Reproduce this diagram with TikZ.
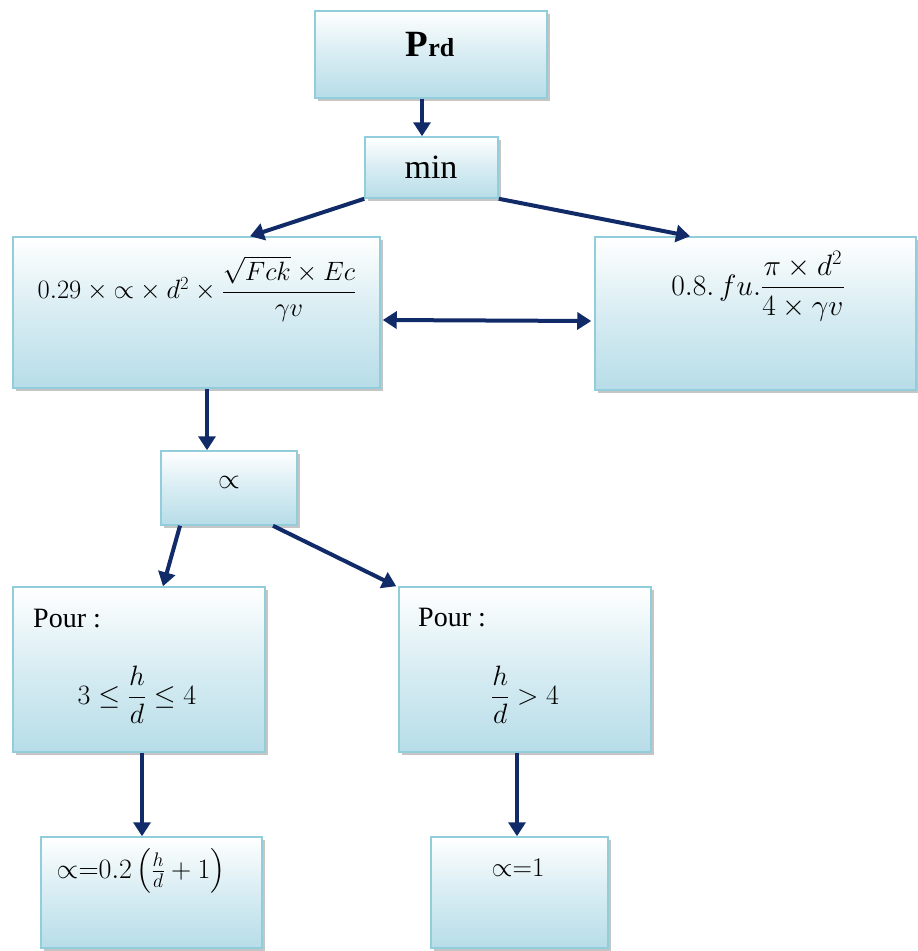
\RequirePackage{fix-cm}
\documentclass[tikz,border=0pt]{standalone}
\usepackage{amsmath,fontspec}
\setmainfont{Liberation Serif}
\usetikzlibrary{arrows.meta,shadows}
\definecolor{boxedge}{RGB}{146,205,220}
\definecolor{boxfill}{RGB}{183,221,232}
\definecolor{navy}{RGB}{17,42,104}

\begin{document}
\begin{tikzpicture}[x=1pt,y=-1pt,
  >={Triangle[length=14pt,width=17pt]},
  box/.style={draw=boxedge,line width=1.5pt,top color=white,bottom color=boxfill,
    middle color=boxfill!55,inner sep=0pt,
    drop shadow={shadow xshift=3pt,shadow yshift=-3pt,fill=black!45}},
  link/.style={draw=navy,fill=navy,line width=4pt,->},
  twoway/.style={draw=navy,fill=navy,line width=4pt,<->}]
\path[use as bounding box] (0,0) rectangle (918,951);
% boxes
\node[box,minimum width=232pt,minimum height=87pt] (prd) at (431,54.5) {};
\node[box,minimum width=133pt,minimum height=61pt] (minbox) at (431.5,167.5) {};
\node[box,minimum width=367pt,minimum height=151pt] (beton) at (196.5,312.5) {};
\node[box,minimum width=321pt,minimum height=153pt] (acier) at (755.5,313.5) {};
\node[box,minimum width=136pt,minimum height=74pt] (alpha) at (229,488) {};
\node[box,minimum width=252pt,minimum height=165pt] (pourA) at (139,669.5) {};
\node[box,minimum width=252pt,minimum height=165pt] (pourB) at (525,669.5) {};
\node[box,minimum width=221pt,minimum height=111pt] (alphaA) at (151.5,892.5) {};
\node[box,minimum width=177pt,minimum height=111pt] (alphaB) at (519.5,892.5) {};
% texts
\node[inner sep=0pt,font=\fontsize{37}{44}\selectfont\bfseries] (prdtxt) at (430,45) {P\fontsize{26}{30}\selectfont rd};
\node[inner sep=0pt,font=\fontsize{34}{40}\selectfont] (mintxt) at (431,167) {min};
\node[inner sep=0pt,font=\fontsize{26.5}{32}\selectfont] (betontxt) at (197,289)
  {$0.29\times{\propto}\times d^2\times\dfrac{\sqrt{Fck}\times Ec}{\gamma v}$};
\node[inner sep=0pt,font=\fontsize{29.5}{35}\selectfont] (aciertxt) at (758,286)
  {$0.8.\,fu.\dfrac{\pi\times d^2}{4\times\gamma v}$};
\node[inner sep=0pt,font=\fontsize{28}{33}\selectfont] (alphatxt) at (229,482) {$\propto$};
\node[anchor=base west,inner sep=0pt,font=\fontsize{28}{33}\selectfont] (pourAtxt) at (33,627) {Pour :};
\node[inner sep=0pt,font=\fontsize{28}{33}\selectfont] (condA) at (137,695) {$3\le\dfrac{h}{d}\le 4$};
\node[anchor=base west,inner sep=0pt,font=\fontsize{28}{33}\selectfont] (pourBtxt) at (418,626) {Pour :};
\node[inner sep=0pt,font=\fontsize{28}{33}\selectfont] (condB) at (525,695) {$\dfrac{h}{d}>4$};
\node[inner sep=0pt,font=\fontsize{28}{33}\selectfont] (resA) at (141,871) {${\propto}{=}0.2\left(\frac{h}{d}+1\right)$};
\node[inner sep=0pt,font=\fontsize{27}{32}\selectfont] (resB) at (518,868) {${\propto}{=}1$};
% connectors
\draw[link] ([xshift=-9pt]prd.south) -- ([xshift=-9pt]prd.south |- minbox.north);
\draw[link] (minbox.south west) -- ([xshift=53.5pt]beton.north);
\draw[link] (minbox.south east) -- ([xshift=-65.5pt]acier.north);
\draw[twoway] ([xshift=2pt,yshift=-7.5pt]beton.east) -- ([xshift=-3pt,yshift=-7.5pt]acier.west);
\draw[link] ([xshift=10.5pt]beton.south) -- ([xshift=10.5pt]beton.south |- alpha.north);
\draw[link] ([xshift=-49pt]alpha.south) -- ([xshift=24pt]pourA.north);
\draw[link] ([xshift=44pt]alpha.south) -- ([xshift=-2pt]pourB.north west);
\draw[link] ([xshift=3pt]pourA.south) -- ([xshift=3pt]pourA.south |- alphaA.north);
\draw[link] ([xshift=-8pt]pourB.south) -- ([xshift=-8pt]pourB.south |- alphaB.north);
\end{tikzpicture}
\end{document}
